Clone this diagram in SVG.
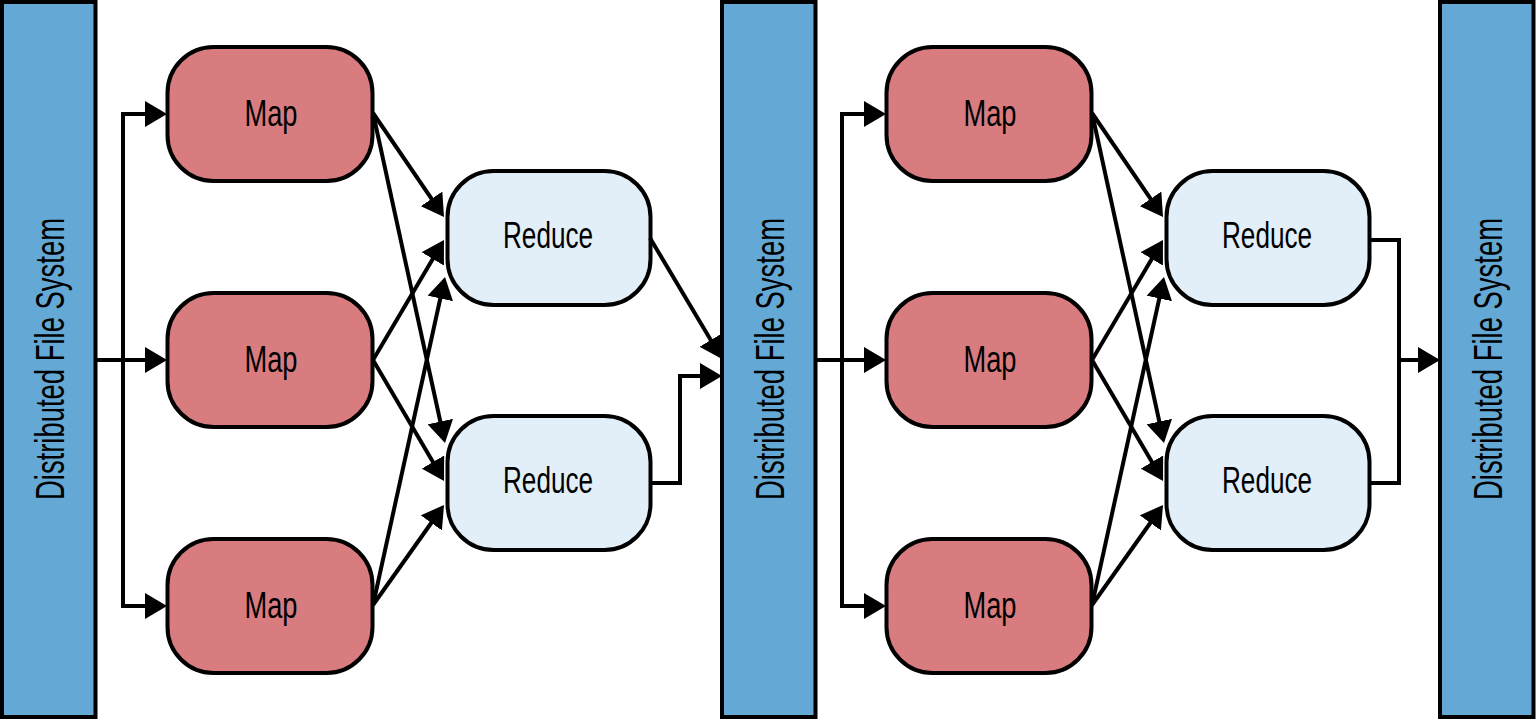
<svg xmlns="http://www.w3.org/2000/svg" width="1537" height="720" viewBox="0 0 1537 720">
<style>
.dfs{fill:#64a8d5;stroke:#000;stroke-width:4}
.map{fill:#d97c80;stroke:#000;stroke-width:4}
.red{fill:#e2eff8;stroke:#000;stroke-width:4}
.lbl{font-family:"Liberation Sans",Arial,sans-serif;font-size:37px;fill:#000;text-anchor:middle}
.vl{font-family:"Liberation Sans",Arial,sans-serif;font-size:41px;fill:#000;text-anchor:middle}
.c{fill:none;stroke:#000;stroke-width:4;marker-end:url(#ah)}
</style>
<defs>
<marker id="ah" viewBox="0 0 22 26" refX="14" refY="13" markerWidth="22" markerHeight="26" markerUnits="userSpaceOnUse" orient="auto"><path d="M0,0 L22,13 L0,26 z" fill="#000"/></marker>
</defs>
<rect width="1537" height="720" fill="#fff"/>

<g id="dfs1"><rect class="dfs" x="2" y="2" width="93.5" height="715"/><text class="vl" transform="translate(64,359) rotate(-90)" textLength="282" lengthAdjust="spacingAndGlyphs">Distributed File System</text></g>
<g id="dfs2"><rect class="dfs" x="722" y="2" width="93.5" height="715"/><text class="vl" transform="translate(784,359) rotate(-90)" textLength="282" lengthAdjust="spacingAndGlyphs">Distributed File System</text></g>
<g id="dfs3"><rect class="dfs" x="1440" y="2" width="93.5" height="715"/><text class="vl" transform="translate(1502,359) rotate(-90)" textLength="282" lengthAdjust="spacingAndGlyphs">Distributed File System</text></g>

<g id="map1"><rect class="map" x="167.5" y="47" width="205" height="134" rx="46"/><text class="lbl" x="271" y="126" textLength="53" lengthAdjust="spacingAndGlyphs">Map</text></g>
<g id="map2"><rect class="map" x="167.5" y="293" width="205" height="134" rx="46"/><text class="lbl" x="271" y="372" textLength="53" lengthAdjust="spacingAndGlyphs">Map</text></g>
<g id="map3"><rect class="map" x="167.5" y="539" width="205" height="134" rx="46"/><text class="lbl" x="271" y="618" textLength="53" lengthAdjust="spacingAndGlyphs">Map</text></g>
<g id="reduce1"><rect class="red" x="447.5" y="171" width="203" height="134" rx="46"/><text class="lbl" x="548" y="248" textLength="90" lengthAdjust="spacingAndGlyphs">Reduce</text></g>
<g id="reduce2"><rect class="red" x="447.5" y="416" width="203" height="134" rx="46"/><text class="lbl" x="548" y="493" textLength="90" lengthAdjust="spacingAndGlyphs">Reduce</text></g>

<g id="map4"><rect class="map" x="886.5" y="47" width="205" height="134" rx="46"/><text class="lbl" x="990" y="126" textLength="53" lengthAdjust="spacingAndGlyphs">Map</text></g>
<g id="map5"><rect class="map" x="886.5" y="293" width="205" height="134" rx="46"/><text class="lbl" x="990" y="372" textLength="53" lengthAdjust="spacingAndGlyphs">Map</text></g>
<g id="map6"><rect class="map" x="886.5" y="539" width="205" height="134" rx="46"/><text class="lbl" x="990" y="618" textLength="53" lengthAdjust="spacingAndGlyphs">Map</text></g>
<g id="reduce3"><rect class="red" x="1166.5" y="171" width="203" height="134" rx="46"/><text class="lbl" x="1267" y="248" textLength="90" lengthAdjust="spacingAndGlyphs">Reduce</text></g>
<g id="reduce4"><rect class="red" x="1166.5" y="416" width="203" height="134" rx="46"/><text class="lbl" x="1267" y="493" textLength="90" lengthAdjust="spacingAndGlyphs">Reduce</text></g>

<g id="connectors">
<g id="stage1">
<path class="c" d="M97,360 H159"/>
<path class="c" d="M123,362 V114 H159"/>
<path class="c" d="M123,358 V606 H159"/>
<path class="c" d="M373,113 L439.5,210.4"/>
<path class="c" d="M373,113 L443.3,435.2"/>
<path class="c" d="M373,360 L439.9,246.9"/>
<path class="c" d="M373,360 L440,474.1"/>
<path class="c" d="M373,605 L443.3,284.8"/>
<path class="c" d="M373,605 L439.4,511.5"/>
</g>
<g id="stage2" transform="translate(719,0)">
<path class="c" d="M97,360 H159"/>
<path class="c" d="M123,362 V114 H159"/>
<path class="c" d="M123,358 V606 H159"/>
<path class="c" d="M373,113 L439.5,210.4"/>
<path class="c" d="M373,113 L443.3,435.2"/>
<path class="c" d="M373,360 L439.9,246.9"/>
<path class="c" d="M373,360 L440,474.1"/>
<path class="c" d="M373,605 L443.3,284.8"/>
<path class="c" d="M373,605 L439.4,511.5"/>
</g>
<path class="c" d="M650,238 L717.9,352.1"/>
<path class="c" d="M650,483 H680 V376 H714"/>
<path d="M1369,240 H1399 V483 H1369" fill="none" stroke="#000" stroke-width="4"/>
<path class="c" d="M1399,360 H1432"/>
</g>
</svg>
